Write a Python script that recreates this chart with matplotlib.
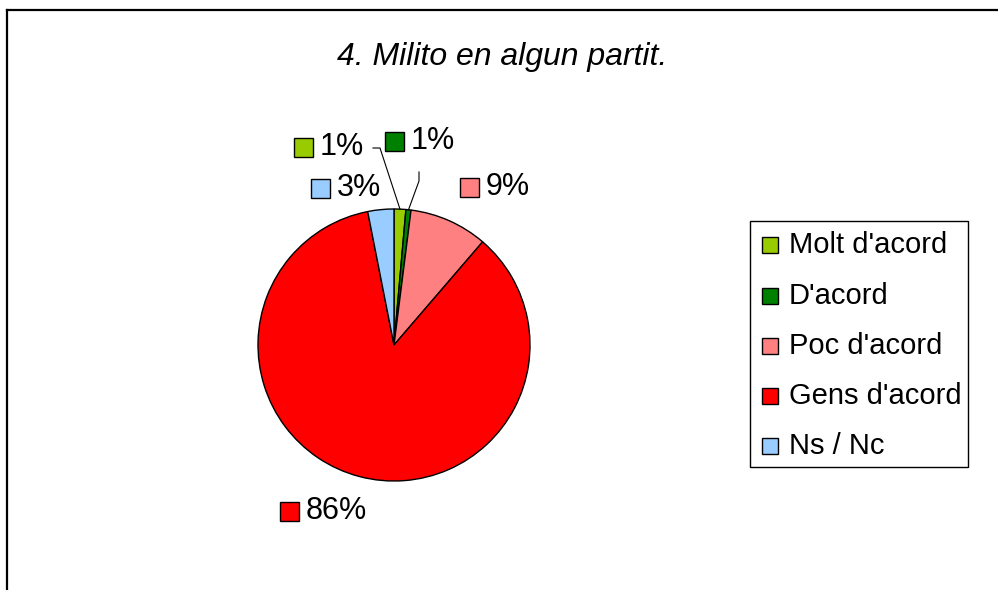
import matplotlib
matplotlib.use("Agg")
import matplotlib.pyplot as plt
from matplotlib.patches import Rectangle
from matplotlib.lines import Line2D
import numpy as np

# ---- data ----
categories = ["Molt d'acord", "D'acord", "Poc d'acord", "Gens d'acord", "Ns / Nc"]
values = [1.4, 0.6, 9.3, 85.6, 3.1]
colors = ["#99CC00", "#008000", "#FF8080", "#FF0000", "#99CCFF"]
title = "4. Milito en algun partit."

plt.rcParams['font.family'] = ['Liberation Sans', 'DejaVu Sans']

W, H = 998, 590
fig = plt.figure(figsize=(W / 100, H / 100), dpi=100)
ax = fig.add_axes([0, 0, 1, 1])

def Y(y):
    return H - y

# pie (center and radius in pixel layout)
cx, cy, r = 394, 345, 136
wedges, _ = ax.pie(values, colors=colors, startangle=90, counterclock=False,
                   center=(cx, Y(cy)), radius=r,
                   wedgeprops=dict(edgecolor='black', linewidth=1.0))
ax.set_xlim(0, W)
ax.set_ylim(0, H)
ax.set_aspect('auto')
ax.axis('off')

# frame lines (top and left)
ax.add_line(Line2D([7, W], [Y(10), Y(10)], color='black', lw=1.6))
ax.add_line(Line2D([7, 7], [Y(10), 0], color='black', lw=1.6))

# title
ax.text(502, Y(57), title, fontsize=23, style='italic', ha='center', va='center')

# data labels: (square left x, center y) in pixel layout
label_pos = [(294, 147), (385, 141), (460, 187), (280, 511), (311, 188)]
fs = 22
sq = 19
for (lx, ly), v, c in zip(label_pos, values, colors):
    ax.add_patch(Rectangle((lx, Y(ly) - sq / 2), sq, sq, facecolor=c,
                           edgecolor='black', lw=1.0))
    ax.text(lx + sq + 7, Y(ly), f"{round(v):d}%", fontsize=fs,
            ha='left', va='center')

# leader lines for the two tiny slices
def edge_point(i):
    start = 90 - 360 * sum(values[:i]) / 100
    mid = start - 360 * values[i] / 200
    t = np.deg2rad(mid)
    return cx + r * np.cos(t), cy - r * np.sin(t)

ex, ey = edge_point(0)
ax.add_line(Line2D([ex, 380, 373], [Y(ey), Y(148), Y(148)], color='black', lw=0.8))
ex, ey = edge_point(1)
ax.add_line(Line2D([ex, 419, 419], [Y(ey), Y(181), Y(172)], color='black', lw=0.8))

# legend box
ax.add_patch(Rectangle((750, Y(467)), 218, 246, facecolor='white',
                       edgecolor='black', lw=1.0))
rows = [245, 296, 346, 396, 446]
for ry, name, c in zip(rows, categories, colors):
    ax.add_patch(Rectangle((762, Y(ry) - 8), 16, 16, facecolor=c,
                           edgecolor='black', lw=1.0))
    ax.text(789, Y(ry), name, fontsize=21, ha='left', va='center')

fig.savefig("out.png", dpi=100)
